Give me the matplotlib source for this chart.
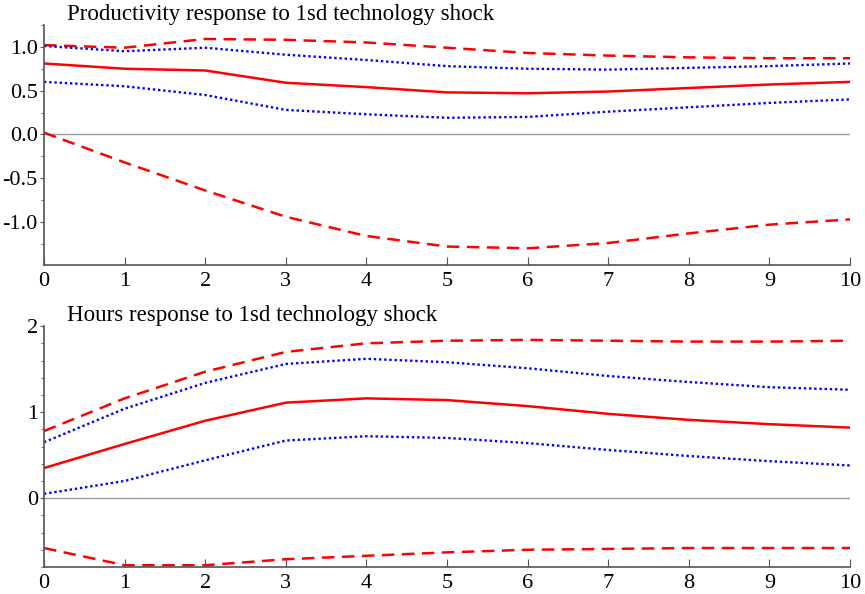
import matplotlib
matplotlib.use("Agg")
import matplotlib.pyplot as plt
from matplotlib.ticker import MultipleLocator

plt.rcParams['font.family'] = ['Liberation Serif', 'DejaVu Serif']

horizon = list(range(11))

# productivity response
prod_irf = [0.81, 0.75, 0.73, 0.59, 0.54, 0.48, 0.47, 0.49, 0.53, 0.57, 0.60]
prod_dash_hi = [1.02, 0.99, 1.09, 1.08, 1.05, 0.99, 0.93, 0.90, 0.88, 0.87, 0.87]
prod_dash_lo = [0.02, -0.32, -0.64, -0.94, -1.16, -1.28, -1.30, -1.24, -1.13, -1.03, -0.97]
prod_dot_hi = [1.01, 0.95, 0.99, 0.91, 0.85, 0.78, 0.75, 0.74, 0.76, 0.78, 0.81]
prod_dot_lo = [0.60, 0.55, 0.45, 0.28, 0.23, 0.19, 0.20, 0.26, 0.31, 0.36, 0.40]

# hours response
hours_irf = [0.35, 0.63, 0.90, 1.11, 1.16, 1.14, 1.07, 0.98, 0.91, 0.86, 0.82]
hours_dash_hi = [0.78, 1.16, 1.47, 1.70, 1.80, 1.83, 1.84, 1.83, 1.82, 1.82, 1.83]
hours_dash_lo = [-0.58, -0.78, -0.78, -0.71, -0.67, -0.63, -0.60, -0.59, -0.58, -0.58, -0.58]
hours_dot_hi = [0.65, 1.04, 1.34, 1.56, 1.62, 1.58, 1.51, 1.42, 1.35, 1.29, 1.26]
hours_dot_lo = [0.05, 0.20, 0.44, 0.67, 0.72, 0.70, 0.64, 0.56, 0.49, 0.43, 0.38]

fig = plt.figure(figsize=(8.65, 5.94), dpi=100)
ax1 = fig.add_axes([0.0509, 0.554, 0.9318, 0.404])
ax2 = fig.add_axes([0.0509, 0.0455, 0.9318, 0.4055])

panels = [
    (ax1, "Productivity response to 1sd technology shock",
     prod_irf, prod_dash_hi, prod_dash_lo, prod_dot_hi, prod_dot_lo,
     (-1.49, 1.25), 0.5, 0.25, "%.1f"),
    (ax2, "Hours response to 1sd technology shock",
     hours_irf, hours_dash_hi, hours_dash_lo, hours_dot_hi, hours_dot_lo,
     (-0.8, 2.0), 1, 0.2, "%d"),
]

for ax, title, irf, dhi, dlo, thi, tlo, ylim, major, minor, fmt in panels:
    ax.axhline(0, color='#999999', lw=1.0, zorder=1)
    ax.plot(horizon, dhi, color='red', lw=1.8, ls=(0, (5, 3)))
    ax.plot(horizon, dlo, color='red', lw=1.8, ls=(0, (5, 3)))
    ax.plot(horizon, thi, color='blue', lw=1.7, ls=(0, (1, 1.2)))
    ax.plot(horizon, tlo, color='blue', lw=1.7, ls=(0, (1, 1.2)))
    ax.plot(horizon, irf, color='red', lw=1.8)

    ax.set_xlim(0, 10)
    ax.set_ylim(*ylim)
    ax.set_xticks(horizon)
    ax.yaxis.set_major_locator(MultipleLocator(major))
    ax.yaxis.set_minor_locator(MultipleLocator(minor))
    ax.yaxis.set_major_formatter(plt.FormatStrFormatter(fmt))

    for s in ['top', 'right']:
        ax.spines[s].set_visible(False)
    for s in ['left', 'bottom']:
        ax.spines[s].set_color('#555555')
        ax.spines[s].set_linewidth(1.2)

    ax.tick_params(axis='x', direction='in', length=6, color='#555555',
                   labelsize=16, pad=5)
    ax.tick_params(axis='y', which='major', direction='out', length=3,
                   color='#555555', labelsize=16, pad=1.5)
    ax.tick_params(axis='y', which='minor', direction='out', length=2,
                   color='#555555')

    ax.text(0.028, 1.0, title, transform=ax.transAxes, fontsize=16.5,
            ha='left', va='bottom')

fig.savefig("out.png", dpi=100)
